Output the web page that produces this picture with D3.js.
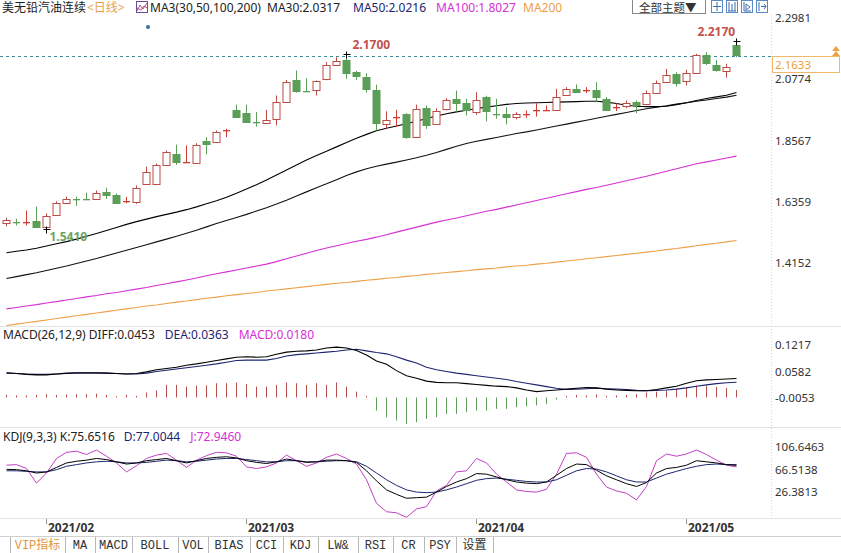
<!DOCTYPE html>
<html>
<head>
<meta charset="utf-8">
<style>
  body { margin: 0; background: #fff; }
  svg { display: block; font-family: "Noto Sans", "Noto Sans CJK SC", sans-serif; }
  .tab { font-family: "Liberation Mono", "Noto Sans CJK SC", monospace; font-size: 12px; fill: #333; }
</style>
</head>
<body>
<svg></svg>
<script src="https://cdn.jsdelivr.net/npm/d3@7"></script>
<script>
// daily candles, oldest first
const opens = [1.561,1.566,1.564,1.568,1.549,1.589,1.637,1.649,1.650,1.650,1.672,1.664,1.638,1.640,1.700,1.700,1.771,1.809,1.780,1.781,1.858,1.853,1.894,1.970,1.957,1.926,1.921,1.937,1.997,2.077,2.039,2.039,2.078,2.131,2.147,2.105,2.089,2.039,1.919,1.942,1.953,1.873,1.977,1.917,1.971,2.007,1.993,1.961,2.017,1.957,1.955,1.943,1.954,1.966,1.966,1.970,2.025,2.045,2.038,2.039,2.009,1.978,1.981,1.997,1.989,2.029,2.069,2.097,2.072,2.101,2.165,2.129,2.111,2.201];
const closes = [1.571,1.564,1.566,1.547,1.588,1.633,1.650,1.647,1.648,1.671,1.660,1.636,1.640,1.689,1.744,1.769,1.816,1.781,1.782,1.844,1.847,1.889,1.896,1.946,1.925,1.924,1.933,1.999,2.069,2.039,2.037,2.073,2.129,2.144,2.099,2.089,2.045,1.919,1.933,1.944,1.871,1.973,1.917,1.964,2.003,1.993,1.967,2.005,1.967,1.955,1.945,1.955,1.956,1.968,1.968,2.015,2.045,2.033,2.040,2.013,1.971,1.980,1.993,1.985,2.029,2.065,2.093,2.063,2.101,2.165,2.135,2.111,2.125,2.1633];
const highs = [1.581,1.577,1.607,1.621,1.596,1.640,1.657,1.657,1.671,1.679,1.689,1.668,1.656,1.697,1.765,1.776,1.823,1.844,1.841,1.849,1.871,1.895,1.901,1.988,1.988,1.961,1.969,2.021,2.077,2.111,2.083,2.075,2.141,2.159,2.170,2.110,2.101,2.060,1.964,1.969,1.957,1.988,1.985,1.975,2.011,2.039,2.009,2.033,2.020,2.009,1.979,1.961,1.967,1.993,1.985,2.045,2.051,2.061,2.051,2.069,2.015,1.993,2.003,2.003,2.039,2.075,2.117,2.105,2.113,2.171,2.177,2.149,2.135,2.217];
const lows = [1.550,1.553,1.553,1.547,1.541,1.587,1.633,1.624,1.646,1.650,1.648,1.634,1.633,1.631,1.700,1.698,1.767,1.771,1.779,1.781,1.809,1.851,1.871,1.943,1.923,1.909,1.920,1.913,1.995,2.031,2.033,2.021,2.076,2.127,2.081,2.077,2.031,1.895,1.901,1.907,1.865,1.871,1.901,1.915,1.967,1.961,1.949,1.951,1.928,1.937,1.917,1.935,1.941,1.945,1.965,1.969,2.023,2.031,2.029,1.997,1.969,1.965,1.975,1.957,1.987,2.027,2.067,2.053,2.057,2.099,2.131,2.107,2.085,2.159];

// moving averages
const ma30 = [1.455,1.460,1.465,1.471,1.479,1.487,1.495,1.504,1.514,1.524,1.535,1.546,1.557,1.567,1.576,1.585,1.593,1.601,1.610,1.620,1.631,1.642,1.655,1.669,1.684,1.700,1.717,1.735,1.753,1.771,1.789,1.805,1.820,1.836,1.852,1.867,1.881,1.894,1.903,1.911,1.919,1.928,1.938,1.947,1.955,1.962,1.968,1.974,1.979,1.984,1.989,1.992,1.994,1.995,1.996,1.997,1.998,1.999,2.000,2.000,1.997,1.992,1.986,1.982,1.981,1.981,1.982,1.988,1.995,2.003,2.010,2.016,2.022,2.0317];
const ma50 = [1.362,1.369,1.376,1.383,1.391,1.399,1.407,1.416,1.425,1.434,1.444,1.454,1.464,1.474,1.484,1.494,1.504,1.514,1.525,1.536,1.548,1.560,1.571,1.582,1.593,1.605,1.617,1.630,1.644,1.659,1.674,1.689,1.703,1.718,1.733,1.746,1.757,1.766,1.774,1.781,1.789,1.797,1.806,1.816,1.827,1.838,1.848,1.856,1.863,1.870,1.877,1.884,1.890,1.897,1.904,1.911,1.918,1.925,1.932,1.939,1.946,1.953,1.960,1.967,1.973,1.979,1.984,1.990,1.995,2.000,2.005,2.010,2.015,2.0216];
const ma100 = [1.253,1.258,1.263,1.268,1.274,1.279,1.285,1.290,1.296,1.301,1.307,1.312,1.318,1.324,1.330,1.337,1.343,1.350,1.357,1.364,1.372,1.379,1.386,1.393,1.400,1.407,1.414,1.423,1.433,1.443,1.453,1.463,1.472,1.480,1.488,1.496,1.503,1.511,1.520,1.529,1.538,1.547,1.556,1.565,1.573,1.580,1.588,1.596,1.604,1.611,1.619,1.627,1.635,1.643,1.651,1.659,1.667,1.675,1.683,1.690,1.698,1.706,1.714,1.722,1.730,1.739,1.748,1.757,1.766,1.775,1.782,1.789,1.796,1.8027];
const ma200 = [1.193,1.198,1.203,1.208,1.213,1.218,1.223,1.228,1.233,1.238,1.243,1.248,1.253,1.258,1.263,1.267,1.272,1.277,1.281,1.286,1.291,1.295,1.300,1.304,1.308,1.312,1.317,1.321,1.325,1.329,1.333,1.337,1.341,1.345,1.348,1.352,1.356,1.359,1.363,1.366,1.370,1.373,1.377,1.380,1.384,1.387,1.390,1.394,1.397,1.400,1.404,1.407,1.410,1.414,1.417,1.421,1.425,1.429,1.433,1.437,1.441,1.445,1.449,1.453,1.457,1.461,1.466,1.470,1.475,1.480,1.485,1.489,1.494,1.499];

// MACD(26,12,9)
const diff = [0.059,0.057,0.055,0.054,0.054,0.056,0.058,0.059,0.059,0.059,0.058,0.057,0.056,0.057,0.061,0.066,0.069,0.072,0.077,0.080,0.084,0.088,0.092,0.096,0.097,0.096,0.097,0.103,0.108,0.110,0.111,0.113,0.118,0.120,0.118,0.112,0.101,0.087,0.079,0.064,0.052,0.046,0.039,0.036,0.035,0.035,0.033,0.031,0.029,0.027,0.026,0.023,0.018,0.014,0.016,0.018,0.020,0.022,0.024,0.023,0.020,0.018,0.017,0.016,0.016,0.019,0.023,0.027,0.034,0.040,0.042,0.043,0.044,0.0453];
const dea = [0.058,0.057,0.056,0.055,0.055,0.056,0.057,0.058,0.058,0.058,0.058,0.057,0.056,0.056,0.058,0.062,0.065,0.068,0.071,0.074,0.077,0.080,0.084,0.088,0.089,0.089,0.089,0.093,0.099,0.102,0.104,0.106,0.108,0.110,0.113,0.115,0.111,0.107,0.104,0.097,0.089,0.082,0.072,0.066,0.062,0.058,0.055,0.052,0.049,0.046,0.043,0.038,0.034,0.030,0.026,0.022,0.019,0.020,0.021,0.022,0.021,0.020,0.019,0.017,0.016,0.017,0.018,0.020,0.023,0.027,0.030,0.033,0.035,0.0363];
const macdBar = [0.006,0.005,0.005,0.006,0.008,0.006,0.007,0.008,0.008,0.009,0.006,0.003,0.006,0.004,0.012,0.017,0.030,0.030,0.026,0.028,0.029,0.034,0.034,0.036,0.032,0.026,0.026,0.030,0.036,0.034,0.030,0.034,0.030,0.036,0.026,0.014,0.004,-0.031,-0.047,-0.055,-0.063,-0.059,-0.051,-0.047,-0.039,-0.039,-0.035,-0.031,-0.031,-0.027,-0.027,-0.023,-0.021,-0.019,-0.015,-0.005,0.004,0.006,0.005,0.007,0.004,0.005,0.006,0.008,0.012,0.014,0.017,0.021,0.025,0.028,0.028,0.025,0.023,0.018];

// KDJ(9,3,3)
const kVals = [68.6,68,66,62,64,72,80,83,85,88,86,82,78,80,84,86,88,84,80,84,88,90,91,89,84,81,79,82,87,84,81,82,85,85,84,81,66,48,32,24,17,18,19,28,38,46,52,61,60,55,50,46,44,43,46,58,70,78,77,67,57,50,43,38,45,62,70,72,76,84,82,80,77,75.65];
const dVals = [66,66,65,64,64,68,74,77,80,82,83,82,80,80,81,83,85,84,82,83,85,87,88,88,86,84,82,82,84,84,82,82,83,84,84,82,74,62,50,40,32,28,27,28,32,37,43,49,52,53,51,49,47,46,46,50,58,66,70,69,64,57,50,46,46,53,60,65,70,74,77,78,77,77.0];
const jVals = [76,77,70,44,62,88,99,101,95,103,92,80,64,75,88,94,97,85,72,85,93,99,98,92,73,70,73,80,94,84,74,80,90,96,88,78,50,8,-7,-9,-17,-2,2,30,40,64,66,88,80,60,46,32,29,28,33,60,97,98,90,60,37,30,26,14,38,84,96,92,96,103,95,85,76,72.95];

// axis ticks and month labels
const priceTicks = [2.2981, 2.0774, 1.8567, 1.6359, 1.4152];
const macdTicks = [0.1217, 0.0582, -0.0053];
const kdjTicks = [106.6463, 66.5138, 26.3813];
const monthStart = [4, 24, 47, 68];
const monthLabels = ["2021/02", "2021/03", "2021/04", "2021/05"];
const lastPrice = 2.1633;

const tabNames = ["VIP指标", "MA", "MACD", "BOLL", "VOL", "BIAS", "CCI", "KDJ", "LW&", "RSI", "CR", "PSY", "设置"];
const tabEdges = [10, 65, 95, 132, 178, 208, 250, 283, 318, 358, 393, 424, 456, 493];

let width = 841, height = 553;
let svg = d3.select("svg").attr("width", width).attr("height", height)
    .attr("viewBox", "0 0 " + width + " " + height);

const RED = "#bd4a45", DOJI_RED = "#d23a32", GREEN = "#5a9e58";
const NAVY = "#1d2470", MAGENTA = "#d62fd6", ORANGE = "#eda048";

let x = d3.scaleLinear().domain([0, opens.length - 1]).range([6, 736]);
let yP = d3.scaleLinear().domain([1.1912, 2.3143]).range([326, 14]);
let yM = d3.scaleLinear().domain([-0.0702, 0.1655]).range([427, 328]);
let yK = d3.scaleLinear().domain([-12.87, 138.76]).range([515, 430]);
const cx = i => Math.round(x(i)) + 0.5;

// pane frames
svg.append("g").selectAll("line").data([326.5, 427.5, 518.5]).enter().append("line")
    .attr("x1", 0).attr("x2", width).attr("y1", d => d).attr("y2", d => d)
    .attr("stroke", "#e2e2e2");
svg.append("line").attr("x1", 771.5).attr("x2", 771.5).attr("y1", 14).attr("y2", 518)
    .attr("stroke", "#d8d8d8").attr("stroke-dasharray", "1,2");

svg.append("clipPath").attr("id", "pclip").append("rect")
    .attr("x", 0).attr("y", 14).attr("width", 771).attr("height", 312);

// ---------- price pane ----------
let price = svg.append("g").attr("clip-path", "url(#pclip)");

let maLine = d3.line().x((d, i) => cx(i)).y(d => yP(d));
[[ma200, ORANGE], [ma100, MAGENTA], [ma50, "#111"], [ma30, "#000"]].forEach(([s, col]) => {
    price.append("path").attr("d", maLine(s)).attr("fill", "none")
        .attr("stroke", col).attr("stroke-width", 1.1);
});

// last price dashed line
price.append("line").attr("x1", 0).attr("x2", 771)
    .attr("y1", Math.round(yP(lastPrice)) + 0.5).attr("y2", Math.round(yP(lastPrice)) + 0.5)
    .attr("stroke", "#3d8f9c").attr("stroke-dasharray", "3,3");

let candles = opens.map((o, i) => ({ i: i, o: o, c: closes[i], h: highs[i], l: lows[i] }));
let cg = price.append("g").selectAll("g").data(candles).enter().append("g");
const isDoji = d => Math.abs(d.c - d.o) < 0.003;
const colorOf = d => isDoji(d) ? (d.c >= d.o ? DOJI_RED : GREEN) : (d.c >= d.o ? RED : GREEN);

cg.append("line")
    .attr("x1", d => cx(d.i)).attr("x2", d => cx(d.i))
    .attr("y1", d => yP(d.h)).attr("y2", d => yP(d.l))
    .attr("stroke", colorOf);

cg.append("rect")
    .attr("x", d => cx(d.i) - 3.5)
    .attr("width", 7)
    .attr("y", d => isDoji(d) ? Math.round(yP(d.c)) : Math.round(yP(Math.max(d.o, d.c))) + 0.5)
    .attr("height", d => isDoji(d) ? 1.3 : Math.max(1, Math.round(Math.abs(yP(d.o) - yP(d.c)))))
    .attr("fill", d => isDoji(d) ? colorOf(d) : (d.c >= d.o ? "#fff" : GREEN))
    .attr("stroke", d => isDoji(d) ? "none" : colorOf(d))
    .attr("stroke-width", 1);

// extreme markers
const iHigh1 = 34, iHigh2 = opens.length - 1, iLow = 4;
[[iHigh1, highs[iHigh1]], [iHigh2, highs[iHigh2]], [iLow, lows[iLow]]].forEach(([i, v]) => {
    let px = cx(i), py = Math.round(yP(v)) + 0.5;
    svg.append("path").attr("d", `M${px - 3},${py}H${px + 4}M${px},${py - 3}V${py + 4}`)
        .attr("stroke", "#000").attr("stroke-width", 1);
});
svg.append("text").attr("x", cx(iHigh1) + 6).attr("y", yP(highs[iHigh1]) - 5)
    .attr("font-size", 12).attr("font-weight", "bold").attr("fill", "#c4504b")
    .text(highs[iHigh1].toFixed(4));
svg.append("text").attr("x", cx(iHigh2) - 39).attr("y", yP(highs[iHigh2]) - 5)
    .attr("font-size", 12).attr("font-weight", "bold").attr("fill", "#c4504b")
    .text(highs[iHigh2].toFixed(4));
svg.append("text").attr("x", cx(iLow) + 3).attr("y", yP(lows[iLow]) + 12)
    .attr("font-size", 12).attr("font-weight", "bold").attr("fill", "#6aa562")
    .text(lows[iLow].toFixed(4));

// small event dot
svg.append("circle").attr("cx", 148).attr("cy", 27).attr("r", 2).attr("fill", "#3a6fa8");

// price axis
svg.append("g").selectAll("text").data(priceTicks).enter().append("text")
    .attr("x", 775).attr("y", d => yP(d)).attr("dy", "0.3em")
    .attr("font-size", 11.5).attr("fill", "#333").text(d => d.toFixed(4));

// last price tag
let tagY = Math.round(yP(lastPrice)) + 0.5;
svg.append("rect").attr("x", 772.5).attr("y", tagY).attr("width", 67).attr("height", 16)
    .attr("fill", "#fff").attr("stroke", "#f2b86a");
svg.append("text").attr("x", 775).attr("y", tagY + 12.5).attr("font-size", 11.5)
    .attr("fill", "#e8a03c").text(lastPrice.toFixed(4));
svg.append("path").attr("d", "M832,51 L836,46 L840,51 Z M832,56 L836,51 L840,56 Z").attr("fill", "#f0a040");

// ---------- MACD pane ----------
let mg = svg.append("g");
mg.selectAll("line").data(macdBar).enter().append("line")
    .attr("x1", (d, i) => cx(i)).attr("x2", (d, i) => cx(i))
    .attr("y1", yM(0)).attr("y2", d => yM(d))
    .attr("stroke", d => d >= 0 ? "#b8504c" : "#5e9c5a");
let mLine = d3.line().x((d, i) => cx(i)).y(d => yM(d));
mg.append("path").attr("d", mLine(dea)).attr("fill", "none").attr("stroke", NAVY).attr("stroke-width", 1.1);
mg.append("path").attr("d", mLine(diff)).attr("fill", "none").attr("stroke", "#000").attr("stroke-width", 1.1);
svg.append("g").selectAll("text").data(macdTicks).enter().append("text")
    .attr("x", 775).attr("y", d => yM(d) - 1).attr("dy", "0.3em")
    .attr("font-size", 11.5).attr("fill", "#333").text(d => d.toFixed(4));

// ---------- KDJ pane ----------
let kLine = d3.line().x((d, i) => cx(i)).y(d => yK(d));
let kg = svg.append("g");
kg.append("path").attr("d", kLine(jVals)).attr("fill", "none").attr("stroke", "#c23fc8").attr("stroke-width", 1);
kg.append("path").attr("d", kLine(dVals)).attr("fill", "none").attr("stroke", NAVY).attr("stroke-width", 1);
kg.append("path").attr("d", kLine(kVals)).attr("fill", "none").attr("stroke", "#000").attr("stroke-width", 1);
svg.append("g").selectAll("text").data(kdjTicks).enter().append("text")
    .attr("x", 775).attr("y", d => yK(d)).attr("dy", "0.3em")
    .attr("font-size", 11.5).attr("fill", "#333").text(d => d.toFixed(4));

// ---------- month axis ----------
let mx = svg.append("g");
mx.selectAll("line").data(monthStart).enter().append("line")
    .attr("x1", d => cx(d)).attr("x2", d => cx(d)).attr("y1", 519).attr("y2", 524)
    .attr("stroke", "#999");
mx.selectAll("text").data(monthStart).enter().append("text")
    .attr("x", d => cx(d) + 1.5).attr("y", 532)
    .attr("font-size", 12).attr("font-weight", "bold").attr("fill", "#333")
    .text((d, i) => monthLabels[i]);

// ---------- header texts ----------
function label(xp, yp, str, col, size) {
    svg.append("text").attr("x", xp).attr("y", yp).attr("font-size", size || 12)
        .attr("fill", col).text(str);
}
label(2, 12, "美无铅汽油连续", "#222");
label(87, 12, "<日线>", "#e8a050");
svg.append("rect").attr("x", 136.5).attr("y", 1.5).attr("width", 11).attr("height", 11)
    .attr("fill", "none").attr("stroke", "#6b4d96");
svg.append("path").attr("d", "M137,11 L140,5 L143,9 L147,3 M137,8 L141,10 L144,6 L147,8")
    .attr("fill", "none").attr("stroke", "#b0407a").attr("stroke-width", 0.9);
label(150, 12, "MA3(30,50,100,200)", "#222");
label(267, 12, "MA30:" + ma30[ma30.length - 1].toFixed(4), "#222");
label(353, 12, "MA50:" + ma50[ma50.length - 1].toFixed(4), NAVY);
label(436, 12, "MA100:" + ma100[ma100.length - 1].toFixed(4), MAGENTA);
label(523, 12, "MA200", ORANGE);

svg.append("rect").attr("x", 632.5).attr("y", -1.5).attr("width", 73).attr("height", 15)
    .attr("fill", "#fff").attr("stroke", "#888");
label(639, 12, "全部主题▼", "#333", 11.5);
[711, 726, 741, 756].forEach((bx, k) => {
    svg.append("rect").attr("x", bx + 0.5).attr("y", 0.5).attr("width", 11).attr("height", 12)
        .attr("fill", "#fff").attr("stroke", "#5a8ac4");
    const glyphs = [
        `M${bx + 6},2V11M${bx + 2},6.5H${bx + 10}`,
        `M${bx + 3},2V11M${bx + 6},4V11M${bx + 9},2V11M${bx + 2},11H${bx + 10}`,
        `M${bx + 3},2V11H${bx + 10}M${bx + 5},4L${bx + 9},7L${bx + 5},10Z`,
        `M${bx + 3},2V11M${bx + 5},6.5H${bx + 10}M${bx + 8},4L${bx + 10},6.5L${bx + 8},9`
    ];
    svg.append("path").attr("d", glyphs[k]).attr("fill", "none").attr("stroke", "#3a6fb0").attr("stroke-width", 1);
});

// indicator headers
let mt = svg.append("text").attr("x", 3).attr("y", 339).attr("font-size", 12);
mt.append("tspan").attr("fill", "#222").text("MACD(26,12,9) DIFF:" + diff[diff.length - 1].toFixed(4));
mt.append("tspan").attr("dx", 10).attr("fill", NAVY).text("DEA:" + dea[dea.length - 1].toFixed(4));
mt.append("tspan").attr("dx", 10).attr("fill", MAGENTA).text("MACD:" + macdBar[macdBar.length - 1].toFixed(4));

let kt = svg.append("text").attr("x", 3).attr("y", 441).attr("font-size", 12);
kt.append("tspan").attr("fill", "#222").text("KDJ(9,3,3) K:75.6516");
kt.append("tspan").attr("dx", 9).attr("fill", NAVY).text("D:77.0044");
kt.append("tspan").attr("dx", 10).attr("fill", MAGENTA).text("J:72.9460");

// ---------- bottom tab bar ----------
let tb = svg.append("g");
tb.append("line").attr("x1", 0).attr("x2", width).attr("y1", 536.5).attr("y2", 536.5).attr("stroke", "#d0d0d0");
tb.selectAll("line.sep").data(tabEdges).enter().append("line").attr("class", "sep")
    .attr("x1", d => d + 0.5).attr("x2", d => d + 0.5).attr("y1", 537).attr("y2", 553)
    .attr("stroke", "#b8b8b8");
tb.selectAll("text").data(tabNames).enter().append("text")
    .attr("class", "tab")
    .attr("x", (d, i) => (tabEdges[i] + tabEdges[i + 1]) / 2)
    .attr("y", 549).attr("text-anchor", "middle")
    .style("fill", (d, i) => i === 0 ? "#e0963c" : "#333")
    .text(d => d);
</script>
</body>
</html>
